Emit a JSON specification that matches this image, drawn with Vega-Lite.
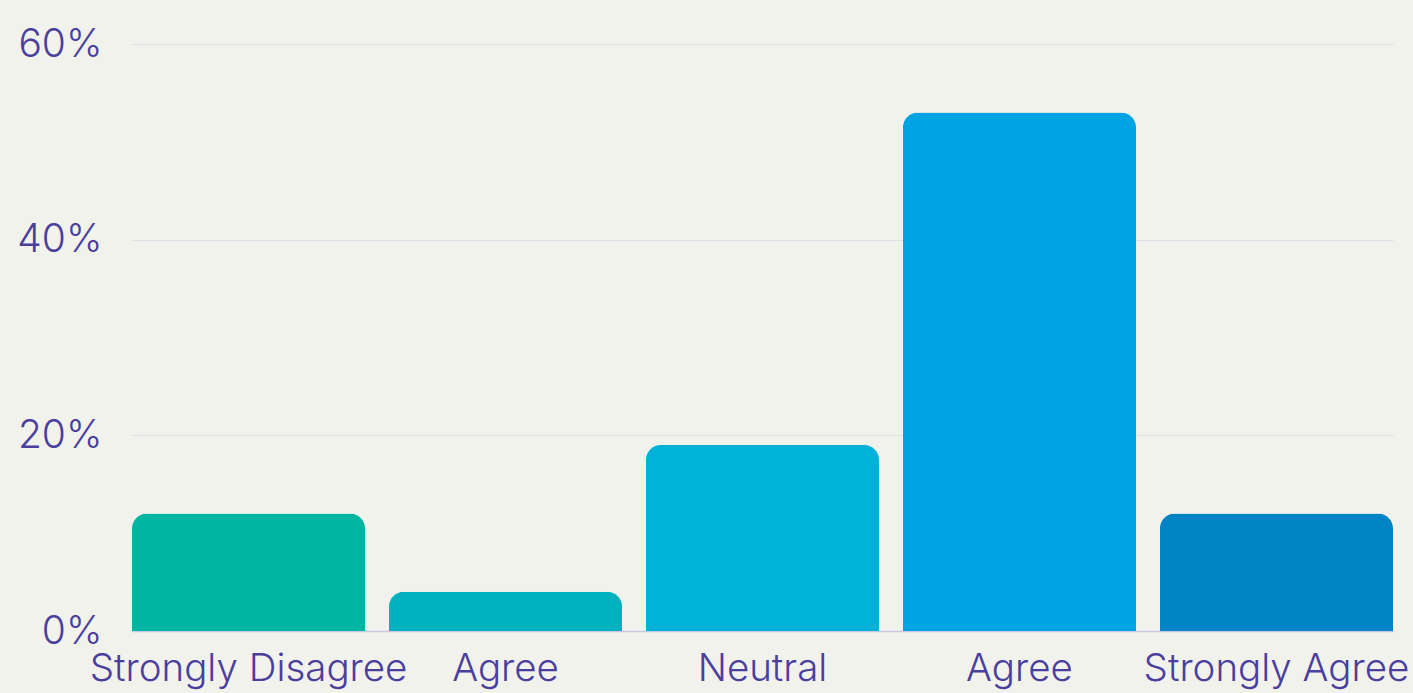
{
  "$schema": "https://vega.github.io/schema/vega-lite/v6.json",
  "width": 1261,
  "height": 587,
  "autosize": "none",
  "padding": {"left": 132, "top": 44, "right": 20, "bottom": 62},
  "background": "#f2f2ed",
  "config": {"view": {"stroke": null}, "font": "Inter"},
  "data": {"values": [
    {"label": "Strongly Disagree", "pct": 0.12, "color": "#00b5a1"},
    {"label": "Agree", "pct": 0.04, "color": "#00b2bd"},
    {"label": "Neutral", "pct": 0.19, "color": "#00b1d8"},
    {"label": "Agree ", "pct": 0.53, "color": "#00a4e3"},
    {"label": "Strongly Agree", "pct": 0.12, "color": "#0084c6"}
  ]},
  "mark": {"type": "bar", "cornerRadiusTopLeft": 15, "cornerRadiusTopRight": 15},
  "encoding": {
    "x": {
      "field": "label", "type": "nominal", "sort": null,
      "scale": {"paddingInner": 0.093, "paddingOuter": 0},
      "axis": {"title": null, "labelAngle": 0, "ticks": false, "domain": true, "domainColor": "#cbc6e3", "domainWidth": 1.5,
        "labelFontSize": 38.5, "labelColor": "#4b3f9e", "labelPadding": 19, "labelFont": "Inter", "labelFontWeight": 300,
        "labelLimit": 0, "labelOverlap": false, "labelBound": false}
    },
    "y": {
      "field": "pct", "type": "quantitative",
      "scale": {"domain": [0, 0.6]},
      "axis": {"title": null, "format": ".0%", "values": [0, 0.2, 0.4, 0.6], "domain": false, "ticks": false,
        "grid": true, "gridColor": "#dedde6", "gridWidth": 1.2,
        "labelFontSize": 39, "labelColor": "#4b3f9e", "labelPadding": 30, "labelFont": "Inter", "labelFontWeight": 300}
    },
    "color": {"field": "color", "type": "nominal", "scale": null, "legend": null}
  }
}
